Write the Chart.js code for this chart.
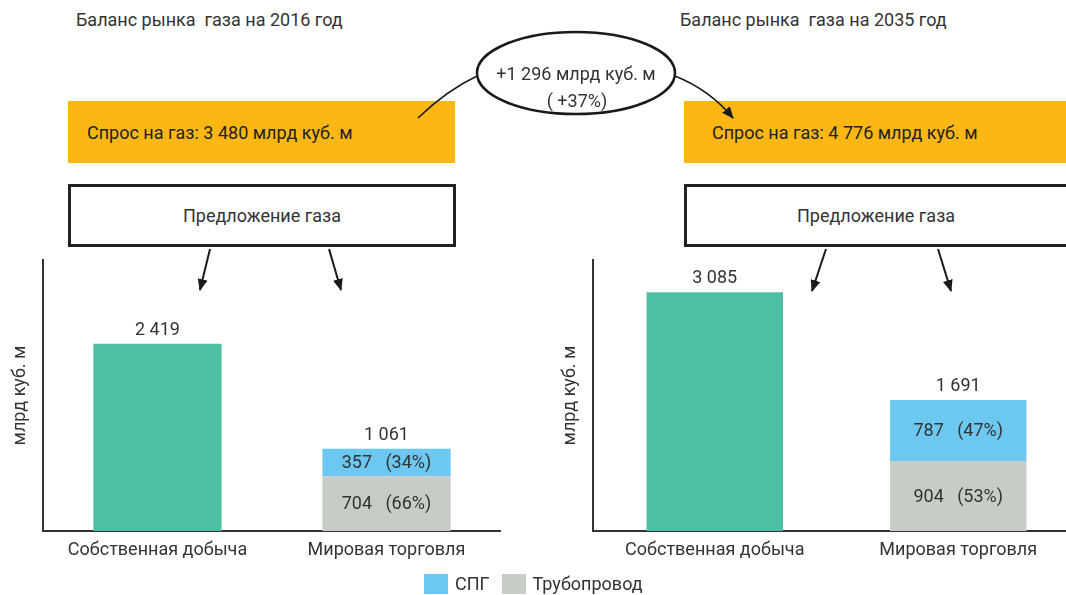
<!DOCTYPE html>
<html>
<head>
<meta charset="utf-8">
<script src="https://cdn.jsdelivr.net/npm/chart.js@4.4.0/dist/chart.umd.min.js"></script>
<style>
  html, body { margin: 0; padding: 0; width: 1066px; height: 595px; overflow: hidden; background: #fff; }
  body { position: relative; font-family: "Roboto", sans-serif; color: #333; font-size: 18px; }
  .abs { position: absolute; white-space: pre; }
  .title { top: 9px; line-height: 22px; }
  .demand { top: 101px; height: 62px; background: #FDB715; display: flex; align-items: center; padding-left: 19px; box-sizing: border-box; color: #222; }
  .supply { top: 184px; height: 63px; border: 3px solid #222; background: #fff; display: flex; align-items: center; justify-content: center; box-sizing: border-box; }
  canvas { position: absolute; }
  .legend { top: 573px; display: flex; align-items: center; font-size: 18px; }
  .sw { width: 24px; height: 20px; display: inline-block; margin-right: 7px; }
</style>
</head>
<body>
<div class="abs title" id="t0" style="left:76px"></div>
<div class="abs title" id="t1" style="left:680px"></div>

<div class="abs demand" id="d0" style="left:68px;width:387px"></div>
<div class="abs demand" id="d1" style="left:684px;width:400px;padding-left:28px"></div>

<div class="abs supply" id="s0" style="left:68px;width:388px"></div>
<div class="abs supply" id="s1" style="left:684px;width:400px;justify-content:flex-start;padding-left:110px"></div>

<canvas id="c0" width="501" height="320" style="left:0;top:250px;width:501px;height:320px"></canvas>
<canvas id="c1" width="530" height="320" style="left:550px;top:250px;width:530px;height:320px"></canvas>

<svg class="abs" width="1066" height="595" style="left:0;top:0;pointer-events:none">
  <defs>
    <marker id="ah" markerWidth="12" markerHeight="10" refX="11" refY="5" orient="auto" markerUnits="userSpaceOnUse">
      <path d="M0,0 L12,5 L0,10 z" fill="#1a1a1a"/>
    </marker>
  </defs>
  <path d="M418,118 Q447,90 479,75" fill="none" stroke="#1a1a1a" stroke-width="1.6"/>
  <path d="M675,76 Q710,90 733,118" fill="none" stroke="#1a1a1a" stroke-width="1.6" marker-end="url(#ah)"/>
  <ellipse cx="576" cy="73" rx="99" ry="41" fill="#fff" stroke="#1a1a1a" stroke-width="2.5"/>
  <text id="e0" x="576" y="80" text-anchor="middle" font-size="18" fill="#333"></text>
  <text id="e1" x="577" y="107" text-anchor="middle" font-size="18" fill="#333"></text>
  <line x1="210" y1="249" x2="200" y2="290" stroke="#1a1a1a" stroke-width="2" marker-end="url(#ah)"/>
  <line x1="329" y1="249" x2="341" y2="290" stroke="#1a1a1a" stroke-width="2" marker-end="url(#ah)"/>
  <line x1="826" y1="249" x2="812" y2="291" stroke="#1a1a1a" stroke-width="2" marker-end="url(#ah)"/>
  <line x1="938" y1="249" x2="951" y2="291" stroke="#1a1a1a" stroke-width="2" marker-end="url(#ah)"/>
</svg>

<div class="abs legend" style="left:424px">
  <span class="sw" style="background:#6CC7F1"></span><span id="l0"></span>
  <span class="sw" style="background:#C8CCC6;margin-left:12px"></span><span id="l1"></span>
</div>

<script>
const FONT = '"Roboto", sans-serif';

// data
const categories = ["Собственная добыча", "Мировая торговля"];
const years = [2016, 2035];
const demand = [3480, 4776];
const ownProduction = [2419, 3085];
const pipeline = [704, 904];
const lng = [357, 787];
const seriesNames = ["СПГ", "Трубопровод"];
const yMax = 3500;

const GREEN = "#4DBFA3";
const BLUE = "#6CC7F1";
const GREY = "#C8CCC6";

function fmt(v) {
  return String(v).replace(/\B(?=(\d{3})+(?!\d))/g, " ");
}

// header texts
years.forEach((y, k) => {
  document.getElementById("t" + k).textContent = "Баланс рынка  газа на " + y + " год";
  document.getElementById("d" + k).textContent = "Спрос на газ: " + fmt(demand[k]) + " млрд куб. м";
  document.getElementById("s" + k).textContent = "Предложение газа";
});
const diff = demand[1] - demand[0];
document.getElementById("e0").textContent = "+" + fmt(diff) + " млрд куб. м";
document.getElementById("e1").textContent = "( +" + Math.round(diff / demand[0] * 100) + "%)";
document.getElementById("l0").textContent = seriesNames[0];
document.getElementById("l1").textContent = seriesNames[1];

const valueLabels = {
  id: "valueLabels",
  afterDatasetsDraw(chart) {
    const ctx = chart.ctx;
    ctx.save();
    ctx.font = "18px " + FONT;
    ctx.fillStyle = "#333";
    ctx.textAlign = "center";
    chart.data.labels.forEach((lab, i) => {
      let total = 0, top = Infinity, x = 0;
      const parts = [];
      chart.data.datasets.forEach((ds, d) => {
        const v = ds.data[i];
        if (v == null) return;
        const el = chart.getDatasetMeta(d).data[i];
        total += v;
        top = Math.min(top, el.y);
        x = el.x;
        parts.push({ v, el });
      });
      ctx.textBaseline = "alphabetic";
      ctx.fillText(fmt(total), x, top - 9);
      if (parts.length > 1) {
        ctx.textBaseline = "middle";
        parts.forEach(p => {
          const pct = Math.round(p.v / total * 100);
          ctx.fillText(fmt(p.v) + "   (" + pct + "%)", p.el.x, (p.el.y + p.el.base) / 2 + 1);
        });
      }
    });
    ctx.restore();
  }
};

function makeChart(id, k) {
  new Chart(document.getElementById(id).getContext("2d"), {
    type: "bar",
    data: {
      labels: categories,
      datasets: [
        { label: "Собственная добыча", data: [ownProduction[k], null], backgroundColor: GREEN },
        { label: seriesNames[1], data: [null, pipeline[k]], backgroundColor: GREY },
        { label: seriesNames[0], data: [null, lng[k]], backgroundColor: BLUE }
      ]
    },
    options: {
      responsive: false,
      animation: false,
      layout: { padding: { top: 10, left: 0, right: 0, bottom: 0 } },
      datasets: { bar: { barPercentage: 0.56, categoryPercentage: 1 } },
      plugins: { legend: { display: false }, tooltip: { enabled: false } },
      scales: {
        x: {
          stacked: true,
          grid: { display: false, drawTicks: false },
          border: { display: true, color: "#333", width: 2 },
          ticks: { color: "#333", font: { family: FONT, size: 18 }, padding: 9 },
          afterFit: s => { s.height = 39; }
        },
        y: {
          stacked: true,
          min: 0,
          max: yMax,
          grid: { display: false, drawTicks: false },
          border: { display: true, color: "#333", width: 2 },
          ticks: { display: false },
          title: { display: true, text: "млрд куб. м", color: "#333", font: { family: FONT, size: 18 }, padding: { top: 10, bottom: 0 } },
          afterFit: s => { s.width = 43; }
        }
      }
    },
    plugins: [valueLabels]
  });
}

makeChart("c0", 0);
makeChart("c1", 1);
</script>
</body>
</html>
